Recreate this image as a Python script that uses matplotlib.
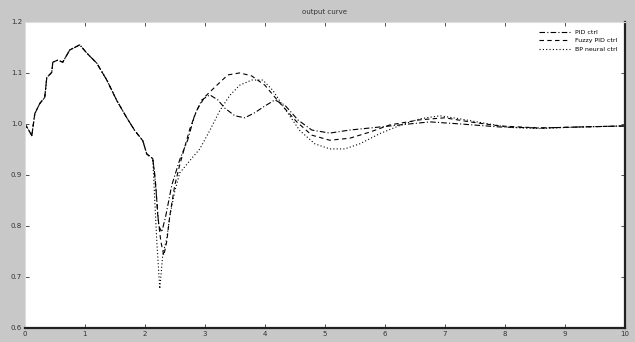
import matplotlib
matplotlib.use("Agg")
import matplotlib.pyplot as plt
import numpy as np

# Shared initial response before the controllers diverge
t_common = [0.0, 0.05, 0.117, 0.167, 0.25, 0.333, 0.367, 0.45, 0.467, 0.55, 0.633,
            0.75, 0.917, 1.033, 1.2, 1.367, 1.533, 1.7, 1.833, 1.967, 2.033, 2.133]
y_common = [1.0, 0.991, 0.977, 1.02, 1.04, 1.052, 1.091, 1.101, 1.121, 1.125, 1.121,
            1.145, 1.155, 1.139, 1.119, 1.086, 1.046, 1.012, 0.987, 0.967, 0.941, 0.932]

# Controller 1
t_a = [2.167, 2.2, 2.233, 2.283, 2.35, 2.45, 2.583, 2.717, 2.833, 2.95, 3.083, 3.217,
       3.333, 3.5, 3.667, 3.833, 4.0, 4.167, 4.333, 4.55, 4.783, 5.083, 5.417, 5.75,
       6.25, 6.75, 7.25, 7.917, 8.583, 9.25, 10.0]
y_a = [0.9, 0.85, 0.8, 0.788, 0.82, 0.88, 0.93, 0.969, 1.018, 1.047, 1.057, 1.047,
       1.031, 1.016, 1.012, 1.022, 1.035, 1.047, 1.037, 1.008, 0.988, 0.982, 0.988, 0.992,
       0.998, 1.004, 1.0, 0.994, 0.992, 0.994, 0.996]

# Controller 2
t_b = [2.183, 2.217, 2.267, 2.317, 2.367, 2.417, 2.5, 2.583, 2.75, 2.867, 3.0, 3.167,
       3.383, 3.583, 3.783, 4.0, 4.25, 4.533, 4.783, 5.083, 5.417, 5.75, 6.083, 6.583,
       7.0, 7.417, 7.917, 8.583, 9.25, 10.0]
y_b = [0.88, 0.82, 0.77, 0.742, 0.77, 0.82, 0.88, 0.92, 0.99, 1.027, 1.053, 1.072,
       1.096, 1.1, 1.094, 1.076, 1.041, 1.004, 0.978, 0.968, 0.972, 0.984, 0.998, 1.008,
       1.012, 1.004, 0.996, 0.992, 0.994, 0.996]

# Controller 3
t_c = [2.167, 2.2, 2.25, 2.3, 2.367, 2.417, 2.5, 2.583, 2.75, 2.917, 3.083, 3.25,
       3.417, 3.583, 3.783, 3.967, 4.133, 4.333, 4.583, 4.833, 5.083, 5.333, 5.583,
       5.917, 6.25, 6.583, 6.917, 7.25, 7.583, 8.083, 8.583, 9.25, 10.0]
y_c = [0.849, 0.77, 0.677, 0.744, 0.776, 0.819, 0.868, 0.904, 0.928, 0.951, 0.987,
       1.026, 1.056, 1.076, 1.086, 1.086, 1.066, 1.03, 0.987, 0.961, 0.951, 0.951, 0.961,
       0.981, 0.997, 1.01, 1.016, 1.01, 1.003, 0.993, 0.991, 0.994, 0.996]

labels = ["PID ctrl", "Fuzzy PID ctrl", "BP neural ctrl"]
x_ticks = list(range(0, 11))
y_ticks = [0.6, 0.7, 0.8, 0.9, 1.0, 1.1, 1.2]

fig = plt.figure(figsize=(6.35, 3.42), dpi=100, facecolor="#c8c8c8")
ax = fig.add_axes([0.039, 0.041, 0.945, 0.895], facecolor="white")

series = [(t_a, y_a, (0, (5, 2, 1, 2))), (t_b, y_b, (0, (4, 3))), (t_c, y_c, (0, (1, 2)))]
for (t, y, ls), lab in zip(series, labels):
    ax.plot(t_common + t, y_common + y, color="black", linestyle=ls, linewidth=0.8,
            label=lab)

ax.set_xlim(0, 10)
ax.set_ylim(0.6, 1.2)
ax.set_xticks(x_ticks)
ax.set_yticks(y_ticks)
ax.tick_params(direction="in", top=True, right=True, labelsize=5, length=3,
               width=0.6, pad=2, colors="#333333")
for side in ("top", "left"):
    ax.spines[side].set_color("#dddddd")
    ax.spines[side].set_linewidth(0.8)
for side in ("bottom", "right"):
    ax.spines[side].set_color("#222222")
    ax.spines[side].set_linewidth(1.6)

ax.set_title("output curve", fontsize=5, pad=6, color="#333333")
ax.legend(loc="upper right", fontsize=4.5, frameon=False, handlelength=5,
          borderaxespad=0.8, labelspacing=0.5)

fig.savefig("out.png", dpi=100, facecolor=fig.get_facecolor())
